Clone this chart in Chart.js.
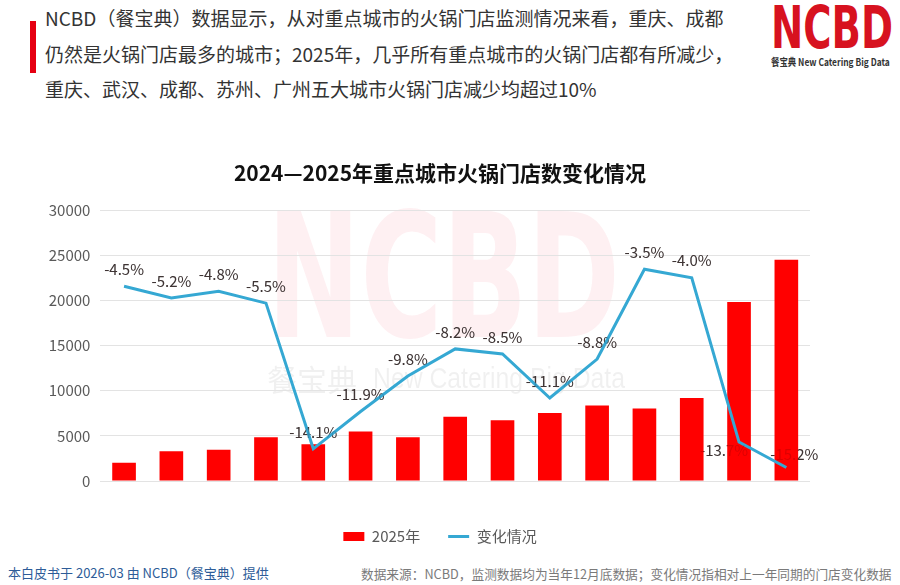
<!DOCTYPE html>
<html>
<head>
<meta charset="utf-8">
<script src="https://cdn.jsdelivr.net/npm/chart.js@4.4.1/dist/chart.umd.min.js"></script>
<style>
html,body{margin:0;padding:0;background:#fff;width:900px;height:585px;overflow:hidden;font-family:"Noto Sans CJK SC","Noto Sans",sans-serif;}
#redbar{position:absolute;left:30px;top:21px;width:6px;height:52px;background:#e60012;}
#head{position:absolute;left:45px;top:0px;font-size:19px;line-height:35.5px;color:#333;white-space:nowrap;}
#logo{position:absolute;left:771px;top:-1px;font-family:"DejaVu Sans","Liberation Sans",sans-serif;font-weight:bold;font-size:58px;line-height:58px;color:#d7121f;transform:scaleX(0.665);transform-origin:0 0;}
#logosub{position:absolute;left:771px;top:56px;font-size:10px;line-height:12px;font-weight:bold;color:#333;white-space:nowrap;transform:scaleX(0.84);transform-origin:0 0;}
#wrap{position:absolute;left:0;top:145px;width:900px;height:409px;}
#footL{position:absolute;left:8px;top:564px;font-size:13px;line-height:18px;color:#2d5c98;white-space:nowrap;}
#footR{position:absolute;left:361px;top:565px;font-size:12.7px;line-height:18px;color:#7a7a7a;white-space:nowrap;}
</style>
</head>
<body>
<div id="redbar"></div>
<div id="head">NCBD（餐宝典）数据显示，从对重点城市的火锅门店监测情况来看，重庆、成都<br>仍然是火锅门店最多的城市；2025年，几乎所有重点城市的火锅门店都有所减少，<br>重庆、武汉、成都、苏州、广州五大城市火锅门店减少均超过10%</div>
<div id="logo">NCBD</div>
<div id="logosub">餐宝典 New Catering Big Data</div>
<div id="wrap"><canvas id="c" width="900" height="409"></canvas></div>
<div id="footL">本白皮书于 2026-03 由 NCBD（餐宝典）提供</div>
<div id="footR">数据来源：NCBD，监测数据均为当年12月底数据；变化情况指相对上一年同期的门店变化数据</div>
<script>
const categories = ['厦门','长沙','南京','杭州','武汉','苏州','天津','上海','郑州','广州','深圳','西安','北京','成都','重庆'];
const stores2025 = [2030, 3290, 3470, 4840, 4070, 5470, 4840, 7100, 6730, 7540, 8350, 8020, 9200, 19810, 24500];
const changePct = [-4.5, -5.2, -4.8, -5.5, -14.1, -11.9, -9.8, -8.2, -8.5, -11.1, -8.8, -3.5, -4.0, -13.7, -15.2];
const seriesNames = ['2025年', '变化情况'];
const chartTitle = '2024—2025年重点城市火锅门店数变化情况';
const labelPlacement = ['t','t','t','t','t','t','t','t','t','t','t','t','t','l','tr'];

const FONT = '"Noto Sans CJK SC","Noto Sans",sans-serif';

const watermark = {
  id: 'watermark',
  beforeDraw(chart) {
    const ctx = chart.ctx;
    ctx.save();
    ctx.fillStyle = 'rgba(235,30,55,0.065)';
    ctx.font = 'bold 173px "DejaVu Sans","Liberation Sans",sans-serif';
    ctx.textBaseline = 'alphabetic';
    const w = ctx.measureText('NCBD').width;
    const x0 = 267, base = 337 - 145;
    ctx.translate(x0, base);
    ctx.scale(353 / w, 1);
    ctx.fillText('NCBD', 0, 0);
    ctx.restore();
    ctx.save();
    ctx.fillStyle = 'rgba(0,0,0,0.06)';
    ctx.textBaseline = 'middle';
    ctx.font = '30px ' + FONT;
    ctx.fillText('餐宝典', 267, 380 - 145);
    ctx.font = '30px "Liberation Sans",Arial,sans-serif';
    const w2 = ctx.measureText('New Catering Big Data').width;
    ctx.translate(373, 380 - 145);
    ctx.scale(252 / w2, 1);
    ctx.fillText('New Catering Big Data', 0, 0);
    ctx.restore();
  }
};

function drawLabels(chart, color) {
  const meta = chart.getDatasetMeta(1);
  const ctx = chart.ctx;
  ctx.save();
  ctx.font = '15px ' + FONT;
  ctx.fillStyle = color;
  ctx.textBaseline = 'middle';
  ctx.textAlign = 'center';
  meta.data.forEach((pt, i) => {
    const txt = changePct[i].toFixed(1) + '%';
    let x = pt.x, y = pt.y - 17;
    if (labelPlacement[i] === 'l') { x = pt.x - 15; y = pt.y + 8; }
    if (labelPlacement[i] === 'tr') { x = pt.x + 8; y = pt.y - 13; }
    ctx.fillText(txt, x, y);
  });
  ctx.restore();
}

const pctLabels = {
  id: 'pctLabels',
  beforeDatasetsDraw(chart) { drawLabels(chart, '#404040'); },
  afterDatasetsDraw(chart) { drawLabels(chart, 'rgba(60,0,0,0.18)'); }
};

new Chart(document.getElementById('c'), {
  type: 'bar',
  data: {
    labels: categories,
    datasets: [
      { type: 'bar', label: seriesNames[0], data: stores2025, backgroundColor: '#ff0000', borderWidth: 0,
        barPercentage: 0.5, categoryPercentage: 1.0, yAxisID: 'y', order: 2 },
      { type: 'line', label: seriesNames[1], data: changePct, borderColor: '#35a8d3', backgroundColor: '#35a8d3',
        borderWidth: 3, pointRadius: 0, tension: 0, fill: false, yAxisID: 'y1', order: 1 }
    ]
  },
  options: {
    responsive: false,
    animation: false,
    devicePixelRatio: 1,
    layout: { padding: { left: 0, right: 20, top: 0, bottom: 0 } },
    plugins: {
      title: { display: true, text: chartTitle, color: '#111', font: { size: 21, weight: 'bold', family: FONT },
               padding: { top: 15.4, bottom: 24.4 } },
      legend: {
        position: 'bottom',
        labels: {
          usePointStyle: true, pointStyleWidth: 21, boxHeight: 9, padding: 28,
          color: '#595959', font: { size: 15, family: FONT },
          sort: (a, b) => a.datasetIndex - b.datasetIndex,
          generateLabels(chart) {
            const items = Chart.defaults.plugins.legend.labels.generateLabels(chart);
            items.forEach((it) => {
              if (it.datasetIndex === 0) { it.pointStyle = 'rect'; it.lineWidth = 0; it.fillStyle = '#ff0000'; }
              else { it.pointStyle = 'line'; it.lineWidth = 3; it.strokeStyle = '#35a8d3'; }
            });
            return items;
          }
        }
      },
      tooltip: { enabled: false }
    },
    scales: {
      x: {
        grid: { display: false }, border: { display: false },
        ticks: { color: '#595959', font: { size: 15, family: FONT }, padding: 10, maxRotation: 0, autoSkip: false },
        afterFit(s) { s.height = 20; }
      },
      y: {
        position: 'left', min: 0, max: 30000,
        ticks: { stepSize: 5000, color: '#595959', font: { size: 15, family: FONT }, padding: 10,
                 callback: (v) => String(v) },
        grid: { color: '#e3e3e3', lineWidth: 1, drawTicks: false },
        border: { display: false },
        afterFit(s) { s.width = 100.4; }
      },
      y1: {
        position: 'right', min: -16, max: 0,
        ticks: { display: false }, grid: { display: false }, border: { display: false },
        afterFit(s) { s.width = 70; }
      }
    }
  },
  plugins: [watermark, pctLabels]
});
</script>
</body>
</html>
